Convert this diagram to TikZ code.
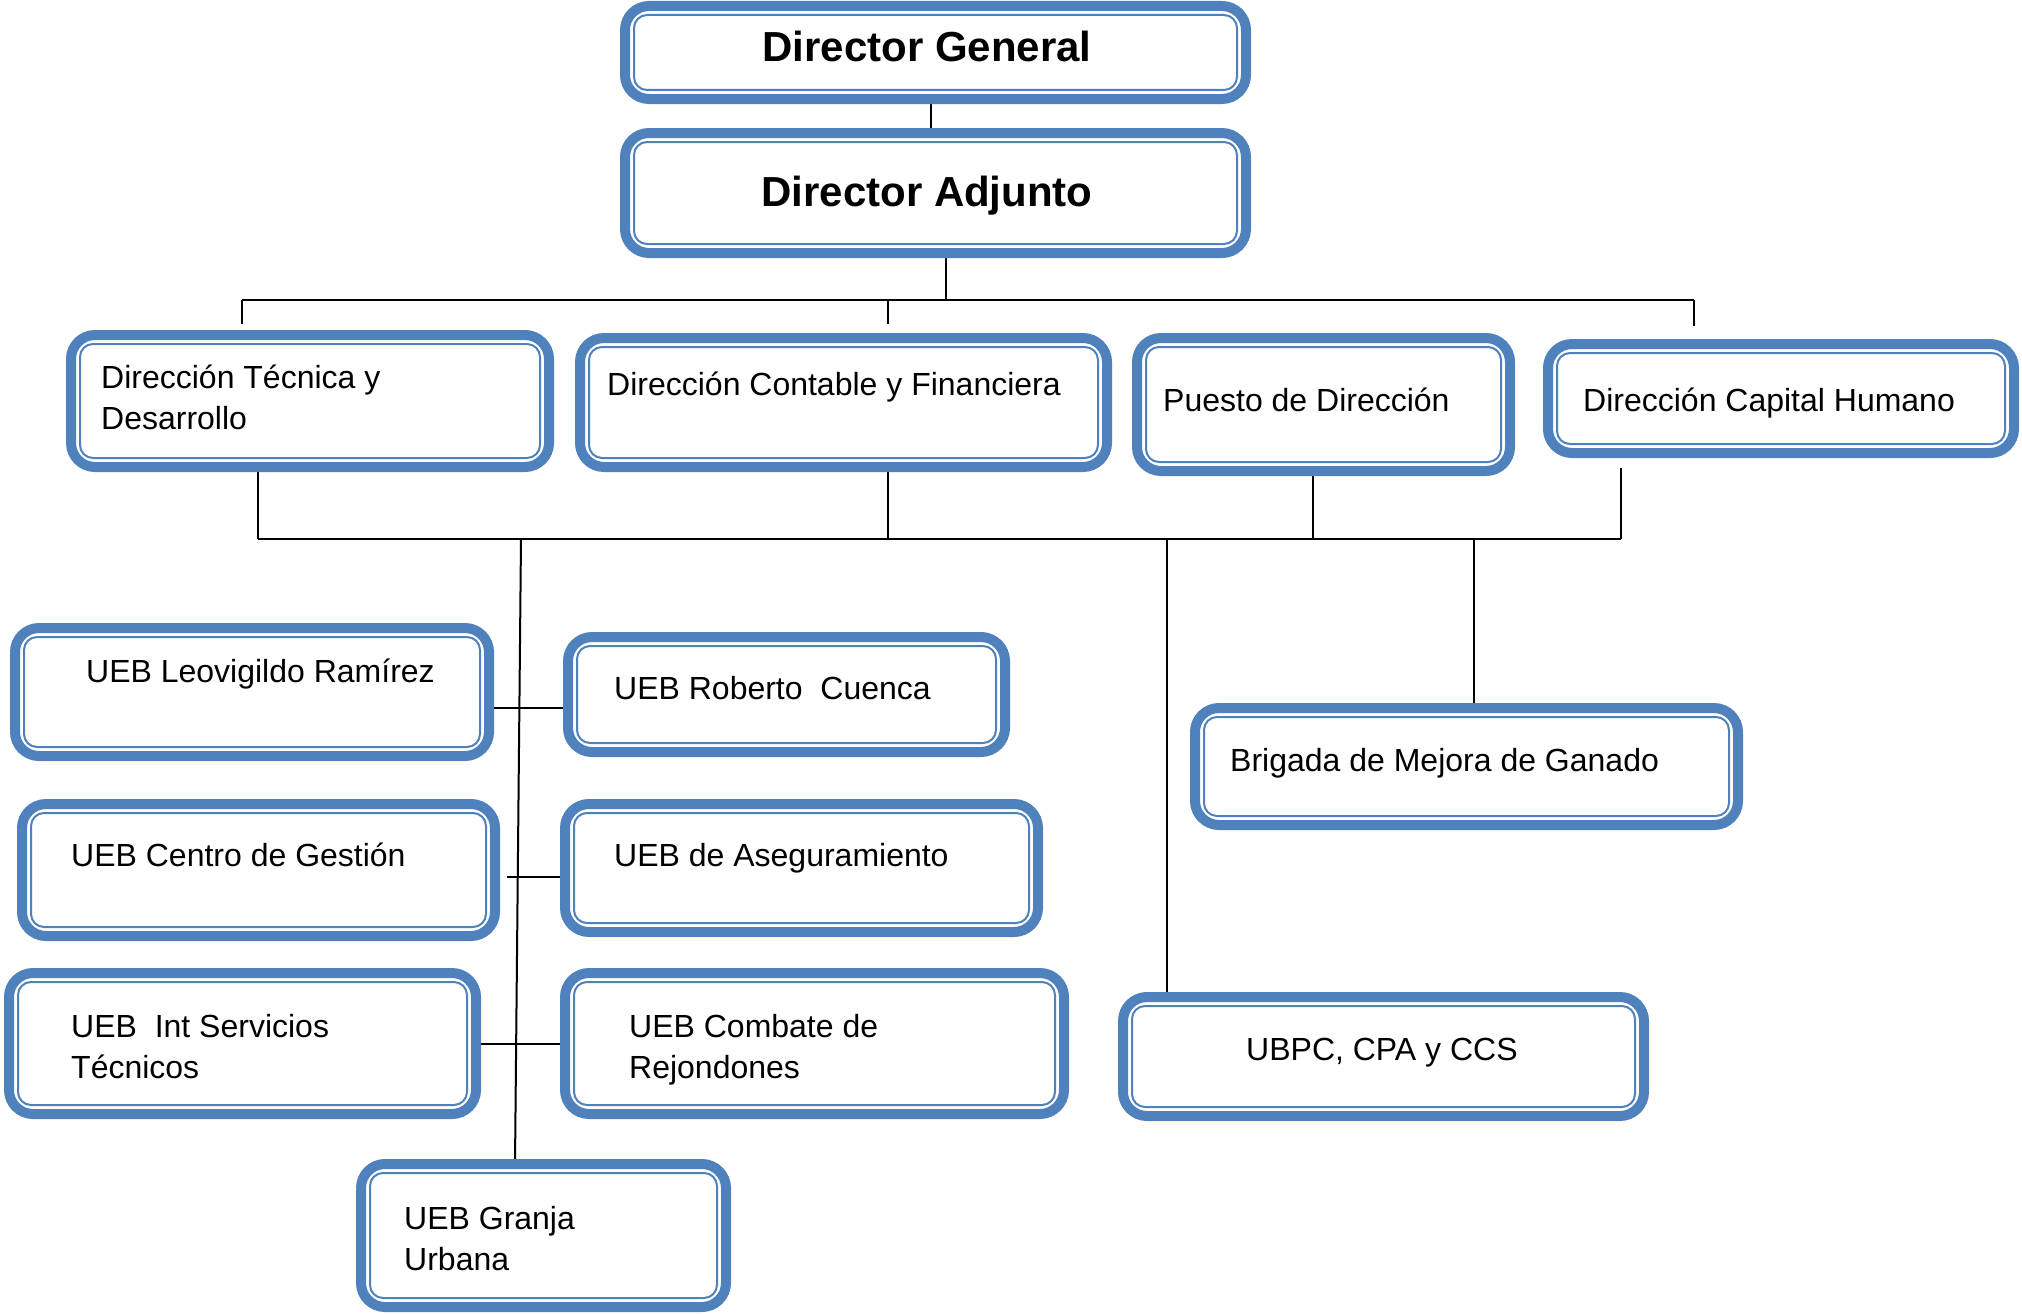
\documentclass[tikz,border=0pt]{standalone}
\usepackage{fontspec}
\setmainfont{Liberation Sans}
\definecolor{boxblue}{RGB}{79,129,189}
\pgfdeclarelayer{background}
\pgfsetlayers{background,main}
\tikzset{
  ob/.style={draw=boxblue,line width=10pt,rounded corners=24pt,fill=white,inner sep=0pt},
  ib/.style={draw=boxblue,line width=2pt,rounded corners=13pt},
  conn/.style={draw=black,line width=2pt},
  lbl/.style={anchor=base west,inner sep=0pt,font=\fontsize{32}{41}\selectfont},
  ttl/.style={anchor=base,inner sep=0pt,font=\fontsize{42}{50}\selectfont\bfseries},
}
\newcommand\orgbox[5]{%
  \node[ob,minimum width={#4-#2-10},minimum height={#5-#3-10}] (#1) at ({(#2+#4)/2},{(#3+#5)/2}) {};
  \draw[ib] ([xshift=14pt,yshift=-14pt]#1.north west) rectangle ([xshift=-14pt,yshift=14pt]#1.south east);
}
\begin{document}
\begin{tikzpicture}[x=1pt,y=-1pt]
\useasboundingbox (0,0) rectangle (2022,1314);
% boxes
\orgbox{DG}{620}{1}{1251}{104}
\orgbox{DA}{620}{128}{1251}{258}
\orgbox{DTD}{66}{330}{554}{472}
\orgbox{DCF}{575}{333}{1112}{472}
\orgbox{PD}{1132}{333}{1515}{476}
\orgbox{DCH}{1543}{339}{2019}{458}
\orgbox{Leo}{10}{623}{494}{761}
\orgbox{Rob}{563}{632}{1010}{757}
\orgbox{Cen}{17}{799}{500}{941}
\orgbox{Ase}{560}{799}{1043}{937}
\orgbox{Int}{4}{968}{481}{1119}
\orgbox{Com}{560}{968}{1069}{1119}
\orgbox{Gra}{356}{1159}{731}{1312}
\orgbox{Bri}{1190}{703}{1743}{830}
\orgbox{UBPC}{1118}{992}{1649}{1121}
% texts
\node[ttl] (tDG) at (927,62) {Director General};
\node[ttl] (tDA) at (927,206) {Director Adjunto};
\node[lbl] (tDTD1) at (101,388) {Dirección Técnica y};
\node[lbl] (tDTD2) at (101,429) {Desarrollo};
\node[lbl] (tDCF) at (607,395) {Dirección Contable y Financiera};
\node[lbl] (tPD) at (1163,411) {Puesto de Dirección};
\node[lbl] (tDCH) at (1583,411) {Dirección Capital Humano};
\node[lbl] (tLeo) at (86,682) {UEB Leovigildo Ramírez};
\node[lbl] (tRob) at (614,699) {UEB Roberto\ \ Cuenca};
\node[lbl] (tCen) at (71,866) {UEB Centro de Gestión};
\node[lbl] (tAse) at (614,866) {UEB de Aseguramiento};
\node[lbl] (tInt1) at (71,1037) {UEB\ \ Int Servicios};
\node[lbl] (tInt2) at (71,1078) {Técnicos};
\node[lbl] (tCom1) at (629,1037) {UEB Combate de};
\node[lbl] (tCom2) at (629,1078) {Rejondones};
\node[lbl] (tGra1) at (404,1229) {UEB Granja};
\node[lbl] (tGra2) at (404,1270) {Urbana};
\node[lbl] (tBri) at (1230,771) {Brigada de Mejora de Ganado};
\node[lbl] (tUBPC) at (1246,1060) {UBPC, CPA y CCS};
% junction coordinates
\coordinate (a1) at (931,0);
\coordinate (t0) at (946,300);
\coordinate (tL) at (242,300);
\coordinate (tM) at (888,300);
\coordinate (tR) at (1694,300);
\coordinate (dL) at (242,324);
\coordinate (dM) at (888,324);
\coordinate (dR) at (1694,326);
\coordinate (bL) at (258,539);
\coordinate (bM) at (888,539);
\coordinate (bP) at (1313,539);
\coordinate (bR) at (1621,539);
\coordinate (uR) at (1621,468);
\coordinate (s1) at (521,539);
\coordinate (s2) at (515,1164);
\coordinate (h1) at (0,708);
\coordinate (h2) at (507,877);
\coordinate (h3) at (0,1044);
\coordinate (v1) at (1167,539);
\coordinate (v2) at (1474,539);
\begin{pgfonlayer}{background}
\draw[conn] (DG.south -| a1) -- (DA.north -| a1);
\draw[conn] (DA.south -| t0) -- (t0);
\draw[conn] (tL) -- (tR);
\draw[conn] (tL) -- (dL);
\draw[conn] (tM) -- (dM);
\draw[conn] (tR) -- (dR);
\draw[conn] (bL) -- (bR);
\draw[conn] (DTD.south -| bL) -- (bL);
\draw[conn] (DCF.south -| bM) -- (bM);
\draw[conn] (PD.south -| bP) -- (bP);
\draw[conn] (uR) -- (bR);
\draw[conn] (s1) -- (s2);
\draw[conn] (Leo.east |- h1) -- (Rob.west |- h1);
\draw[conn] (h2) -- (Ase.west |- h2);
\draw[conn] (Int.east |- h3) -- (Com.west |- h3);
\draw[conn] (v1) -- (UBPC.north -| v1);
\draw[conn] (v2) -- (Bri.north -| v2);
\end{pgfonlayer}
\end{tikzpicture}
\end{document}
